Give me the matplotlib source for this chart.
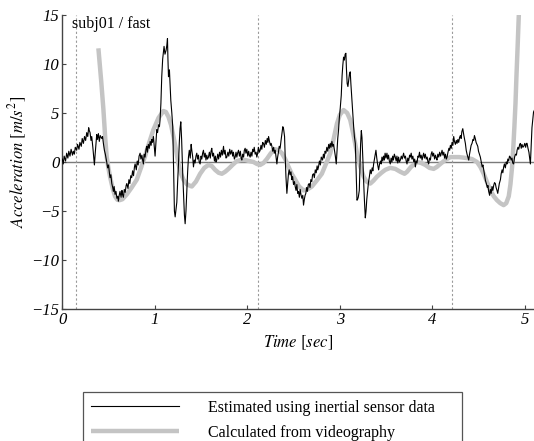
import matplotlib
matplotlib.use('Agg')
import matplotlib.pyplot as plt

plt.rcParams['font.family'] = ['Liberation Serif', 'DejaVu Serif']
plt.rcParams['mathtext.fontset'] = 'stix'

## 관성센서 추정 가속도 (검은 선)
t_imu = [0.00, 0.01, 0.02, 0.035, 0.047, 0.06, 0.07, 0.083, 0.095, 0.11, 0.119, 0.13, 0.14, 0.155, 0.165, 0.18, 0.19, 0.205, 0.215, 0.228,
         0.24, 0.252, 0.264, 0.275, 0.285, 0.292, 0.30, 0.31, 0.318, 0.33, 0.34, 0.347, 0.355, 0.365, 0.372, 0.379, 0.39, 0.40, 0.41, 0.426,
         0.435, 0.444, 0.455, 0.465, 0.48, 0.49, 0.50, 0.51, 0.516, 0.525, 0.535, 0.545, 0.552, 0.56, 0.57, 0.58, 0.59, 0.60, 0.606, 0.615,
         0.624, 0.635, 0.645, 0.65, 0.66, 0.67, 0.68, 0.69, 0.697, 0.71, 0.72, 0.73, 0.74, 0.75, 0.76, 0.77, 0.78, 0.787, 0.80, 0.81,
         0.82, 0.83, 0.841, 0.85, 0.86, 0.868, 0.877, 0.885, 0.895, 0.905, 0.913, 0.92, 0.93, 0.94, 0.95, 0.96, 0.967, 0.975, 0.985, 0.995,
         1.003, 1.012, 1.021, 1.03, 1.04, 1.05, 1.057, 1.066, 1.075, 1.085, 1.10, 1.11, 1.122, 1.13, 1.137, 1.142, 1.148, 1.153, 1.158, 1.165,
         1.173, 1.184, 1.194, 1.20, 1.207, 1.212, 1.22, 1.23, 1.238, 1.247, 1.256, 1.265, 1.273, 1.281, 1.29, 1.297, 1.303, 1.312, 1.32, 1.328,
         1.337, 1.346, 1.355, 1.364, 1.373, 1.383, 1.393, 1.40, 1.41, 1.418, 1.427, 1.436, 1.445, 1.454, 1.463, 1.472, 1.48, 1.49, 1.50, 1.508,
         1.517, 1.526, 1.535, 1.545, 1.553, 1.562, 1.57, 1.58, 1.59, 1.60, 1.608, 1.616, 1.625, 1.635, 1.645, 1.655, 1.662, 1.67, 1.68, 1.69,
         1.70, 1.71, 1.72, 1.73, 1.743, 1.75, 1.76, 1.77, 1.779, 1.79, 1.80, 1.81, 1.82, 1.833, 1.842, 1.85, 1.86, 1.869, 1.878, 1.887,
         1.895, 1.905, 1.915, 1.925, 1.933, 1.941, 1.95, 1.96, 1.968, 1.977, 1.985, 1.995, 2.005, 2.015, 2.022, 2.031, 2.04, 2.05, 2.058, 2.067,
         2.075, 2.085, 2.095, 2.103, 2.112, 2.12, 2.13, 2.139, 2.148, 2.157, 2.166, 2.175, 2.185, 2.195, 2.205, 2.215, 2.223, 2.23, 2.24, 2.25,
         2.258, 2.266, 2.275, 2.285, 2.293, 2.302, 2.31, 2.32, 2.328, 2.337, 2.345, 2.355, 2.365, 2.375, 2.384, 2.392, 2.403, 2.41, 2.418, 2.428,
         2.435, 2.445, 2.453, 2.462, 2.472, 2.482, 2.49, 2.50, 2.51, 2.518, 2.527, 2.536, 2.545, 2.554, 2.563, 2.572, 2.58, 2.59, 2.60, 2.608,
         2.617, 2.625, 2.633, 2.642, 2.65, 2.66, 2.669, 2.678, 2.687, 2.697, 2.706, 2.716, 2.725, 2.735, 2.745, 2.755, 2.762, 2.77, 2.78, 2.79,
         2.80, 2.814, 2.823, 2.832, 2.841, 2.85, 2.86, 2.87, 2.88, 2.888, 2.897, 2.905, 2.915, 2.924, 2.933, 2.943, 2.952, 2.962, 2.97, 2.978,
         2.987, 2.995, 3.005, 3.016, 3.025, 3.033, 3.041, 3.05, 3.058, 3.066, 3.072, 3.08, 3.088, 3.097, 3.105, 3.113, 3.12, 3.13, 3.139, 3.15,
         3.158, 3.168, 3.175, 3.18, 3.186, 3.193, 3.20, 3.211, 3.218, 3.225, 3.233, 3.24, 3.25, 3.258, 3.266, 3.276, 3.284, 3.292, 3.301, 3.31,
         3.32, 3.33, 3.34, 3.35, 3.358, 3.366, 3.375, 3.383, 3.391, 3.40, 3.41, 3.42, 3.43, 3.44, 3.448, 3.456, 3.465, 3.473, 3.482, 3.49,
         3.50, 3.51, 3.518, 3.527, 3.536, 3.546, 3.555, 3.564, 3.572, 3.58, 3.59, 3.60, 3.61, 3.618, 3.627, 3.636, 3.645, 3.655, 3.665, 3.675,
         3.69, 3.70, 3.71, 3.718, 3.727, 3.735, 3.745, 3.755, 3.763, 3.772, 3.78, 3.79, 3.80, 3.81, 3.817, 3.826, 3.835, 3.845, 3.853, 3.862,
         3.87, 3.88, 3.89, 3.898, 3.907, 3.915, 3.925, 3.935, 3.945, 3.953, 3.961, 3.97, 3.98, 3.988, 3.997, 4.005, 4.015, 4.025, 4.035, 4.043,
         4.051, 4.06, 4.07, 4.08, 4.09, 4.098, 4.106, 4.115, 4.125, 4.133, 4.143, 4.152, 4.16, 4.17, 4.18, 4.188, 4.196, 4.205, 4.214, 4.223,
         4.232, 4.24, 4.25, 4.26, 4.268, 4.277, 4.286, 4.295, 4.304, 4.312, 4.32, 4.33, 4.34, 4.35, 4.358, 4.367, 4.376, 4.385, 4.394, 4.403,
         4.412, 4.42, 4.43, 4.44, 4.448, 4.456, 4.465, 4.474, 4.483, 4.492, 4.50, 4.51, 4.52, 4.53, 4.54, 4.548, 4.556, 4.565, 4.575, 4.585,
         4.595, 4.602, 4.61, 4.62, 4.628, 4.637, 4.646, 4.655, 4.664, 4.673, 4.682, 4.69, 4.70, 4.708, 4.716, 4.725, 4.737, 4.745, 4.755, 4.763,
         4.772, 4.78, 4.79, 4.80, 4.808, 4.817, 4.826, 4.835, 4.844, 4.853, 4.862, 4.87, 4.88, 4.89, 4.90, 4.91, 4.917, 4.926, 4.935, 4.945,
         4.953, 4.962, 4.97, 4.98, 4.989, 5.00, 5.01, 5.018, 5.025, 5.035, 5.045, 5.053, 5.061, 5.07, 5.078, 5.086, 5.095, 5.105]
a_imu = [0.3, -0.2, 0.6, 0.1, 0.9, 0.4, 1.1, 0.6, 1.3, 0.7, 1.1, 0.8, 1.5, 1.2, 1.8, 1.3, 2.0, 1.6, 2.4, 1.9,
         2.6, 2.2, 3.0, 2.6, 3.5, 3.2, 3.0, 2.2, 2.6, 1.5, 0.4, -0.3, 0.8, 1.9, 2.8, 2.3, 2.9, 2.1, 2.7, 2.4,
         2.6, 1.9, 1.2, 0.8, 0.0, -0.6, -0.3, -1.2, -1.6, -1.3, -2.2, -2.6, -3.0, -2.5, -3.3, -3.0, -3.7, -3.5, -4.0, -3.4,
         -3.0, -3.6, -2.9, -3.3, -3.6, -2.8, -3.1, -2.4, -2.2, -2.7, -1.8, -2.2, -1.4, -1.6, -0.9, -1.4, -0.5, -0.2, -0.8, 0.1,
         -0.3, 0.6, 0.9, 0.3, 0.7, 0.2, -0.2, 0.8, 0.5, 1.3, 1.6, 1.0, 1.8, 1.4, 2.1, 1.7, 2.3, 2.0, 2.6, 1.5,
         0.6, 2.0, 3.3, 3.0, 3.8, 3.6, 4.3, 6.0, 8.7, 10.5, 11.8, 11.0, 11.4, 11.9, 12.6, 10.5, 8.7, 9.0, 9.4, 8.0,
         6.3, 5.0, 3.6, 1.0, -2.5, -5.0, -5.6, -4.8, -4.1, -2.0, -0.2, 2.0, 3.4, 4.1, 2.3, 0.2, -1.5, -3.6, -5.4, -6.3,
         -5.0, -2.9, -1.0, 0.5, 1.2, 0.4, 1.8, 1.2, 0.5, -0.5, 0.2, -0.1, 0.6, 0.9, 0.3, 0.7, 0.0, -0.2, 0.6, 0.3,
         0.9, 1.2, 0.5, 0.9, 0.2, 0.7, 0.3, 0.5, 1.0, 0.4, 1.1, 1.4, 0.6, 0.9, 0.1, 0.6, 0.0, 0.2, 0.8, 0.3,
         1.0, 0.5, 1.2, 0.7, 1.6, 0.8, 1.2, 0.4, 0.5, 1.0, 0.6, 1.3, 0.8, 1.2, 0.6, 1.0, 0.3, 0.5, 1.0, 0.5,
         0.9, 1.2, 0.6, 1.1, 0.4, 0.2, 0.8, 0.5, 1.2, 1.4, 0.9, 1.3, 0.6, 1.1, 0.7, 0.5, 1.0, 0.6, 1.3, 1.05,
         1.5, 0.8, 1.0, 0.5, 0.9, 1.5, 1.0, 1.2, 1.7, 1.3, 2.0, 1.9, 1.5, 2.2, 1.8, 2.4, 2.0, 2.6, 2.1, 1.7,
         1.9, 1.6, 1.1, 1.5, 0.9, 1.2, 0.6, -0.2, 0.5, 1.0, 1.6, 1.4, 2.2, 2.9, 3.6, 3.4, 2.6, 0.5, -1.5, -3.2,
         -2.4, -1.2, -0.8, -1.3, -1.0, -1.8, -1.5, -2.3, -2.0, -2.5, -2.9, -2.3, -3.2, -3.0, -3.6, -2.8, -3.3, -3.7, -3.4, -4.4,
         -3.8, -3.4, -3.2, -2.6, -3.0, -2.3, -2.2, -2.6, -1.8, -2.0, -1.3, -1.2, -1.6, -0.8, -1.1, -0.4, -0.8, -0.5, 0.1, -0.3,
         0.5, 0.2, 0.8, 0.4, 1.1, 0.9, 1.5, 1.1, 1.8, 1.4, 1.9, 1.5, 2.1, 1.6, 1.8, 1.2, 0.6, -0.2, 1.2, 2.4,
         3.3, 4.5, 5.5, 6.8, 8.8, 9.9, 10.7, 10.4, 11.0, 11.1, 9.5, 8.0, 7.7, 8.4, 9.0, 9.2, 8.0, 6.5, 5.3, 3.6,
         2.6, 1.9, -0.5, -2.5, -3.9, -3.8, -3.6, -2.9, -0.5, 1.8, 3.2, 2.5, 0.2, -2.0, -3.8, -5.7, -5.0, -3.8, -2.9, -2.1,
         -1.5, -0.8, -1.2, -0.6, -0.9, -0.2, 0.3, 0.8, 1.2, 0.4, -0.3, -0.8, -0.2, 0.1, -0.2, 0.5, 0.1, 0.6, 0.2, 0.9,
         0.4, 0.9, 0.3, 0.7, 0.1, -0.2, 0.4, 0.0, 0.6, 0.2, 0.8, 0.5, 0.1, 0.6, -0.1, 0.5, 0.0, 0.2, 0.6, 0.3,
         0.9, 0.4, 0.6, 0.1, -0.2, 0.4, 0.1, 0.7, 0.5, 0.9, 0.3, 0.6, 0.0, 0.3, -0.5, 0.1, -0.1, 0.6, 0.5, 1.0,
         0.4, 0.7, 0.2, 0.6, 0.9, 0.4, 0.8, 0.3, 0.5, 0.0, -0.2, 0.4, 0.2, 0.8, 1.05, 0.6, 0.9, 0.3, 0.7, 0.4,
         0.2, 0.8, 0.5, 1.0, 0.6, 0.9, 1.2, 0.7, 1.0, 0.4, 0.8, 0.3, 0.5, 1.0, 1.4, 1.2, 1.7, 1.4, 2.0, 1.7,
         2.6, 2.1, 1.8, 2.2, 1.9, 2.3, 2.0, 2.5, 2.7, 2.4, 3.1, 3.4, 2.8, 2.3, 1.9, 1.2, 0.8, 0.5, 0.2, 0.8,
         1.3, 1.7, 1.9, 2.3, 2.2, 2.7, 2.4, 2.0, 1.8, 1.6, 1.1, 0.8, 0.5, 0.0, -0.5, -0.3, -0.8, -1.3, -1.9, -2.2,
         -2.6, -2.4, -3.0, -3.4, -2.8, -3.2, -2.5, -2.9, -2.4, -2.1, -2.2, -2.6, -2.9, -3.2, -2.7, -2.2, -1.8, -1.2, -0.8, -1.1,
         -0.5, -0.2, -0.6, 0.0, -0.2, 0.3, 0.1, 0.6, 0.5, 0.2, 0.4, -0.1, -0.2, 0.5, 0.8, 0.7, 1.2, 1.5, 1.3, 1.8,
         1.9, 1.4, 1.8, 1.5, 1.6, 1.9, 1.5, 1.9, 1.9, 1.4, 1.0, 0.4, -0.2, 1.8, 3.5, 4.3, 5.1, 5.3]

## 영상 분석 가속도 (회색 굵은 선)
t_video = [0.39, 0.42, 0.444, 0.465, 0.48, 0.50, 0.516, 0.545, 0.57, 0.595, 0.617, 0.65, 0.697, 0.75, 0.805, 0.85, 0.895, 0.94, 0.985, 1.04,
           1.093, 1.12, 1.148, 1.175, 1.202, 1.23, 1.256, 1.283, 1.31, 1.35, 1.40, 1.445, 1.49, 1.535, 1.58, 1.615, 1.652, 1.69, 1.725, 1.76,
           1.797, 1.84, 1.887, 1.93, 1.977, 2.02, 2.067, 2.105, 2.139, 2.175, 2.211, 2.255, 2.302, 2.34, 2.374, 2.41, 2.446, 2.48, 2.518, 2.56,
           2.608, 2.65, 2.698, 2.75, 2.806, 2.85, 2.897, 2.935, 2.969, 3.00, 3.041, 3.08, 3.113, 3.15, 3.186, 3.22, 3.258, 3.29, 3.33, 3.365,
           3.402, 3.45, 3.492, 3.545, 3.60, 3.655, 3.70, 3.727, 3.77, 3.835, 3.88, 3.925, 3.97, 4.015, 4.05, 4.087, 4.14, 4.196, 4.29, 4.376,
           4.43, 4.484, 4.52, 4.556, 4.59, 4.628, 4.665, 4.70, 4.735, 4.772, 4.80, 4.827, 4.845, 4.863, 4.877, 4.888, 4.90, 4.91, 4.923, 4.935,
           4.95]
a_video = [11.6, 8.3, 5.4, 2.3, 0.5, -0.7, -1.5, -2.7, -3.5, -3.85, -3.9, -3.8, -3.3, -2.6, -1.8, -0.6, 0.6, 2.0, 3.3, 4.5,
           5.2, 5.1, 4.6, 3.8, 2.6, 1.2, -0.2, -1.2, -1.8, -2.3, -2.5, -2.0, -1.2, -0.6, -0.3, -0.4, -0.8, -1.1, -1.2, -1.0,
           -0.7, -0.3, 0.1, 0.2, 0.2, 0.1, 0.0, -0.2, -0.3, -0.1, 0.3, 0.9, 1.3, 1.2, 0.9, 0.3, -0.5, -1.2, -1.8, -2.5,
           -2.9, -2.8, -2.5, -1.9, -1.2, -0.2, 0.9, 2.4, 3.9, 4.8, 5.3, 5.0, 4.3, 2.7, 0.9, -0.4, -1.5, -2.0, -2.2, -1.9,
           -1.5, -1.1, -0.8, -0.6, -0.7, -1.0, -1.2, -1.0, -0.5, 0.0, -0.1, -0.3, -0.6, -0.7, -0.5, -0.2, 0.2, 0.5, 0.5, 0.4,
           0.3, 0.0, -0.5, -1.2, -2.0, -2.9, -3.5, -3.9, -4.2, -4.4, -4.2, -3.5, -2.3, -0.5, 1.6, 3.6, 6.0, 8.7, 11.8, 14.8,
           18.0]

## 걸음 구간 경계
step_marks = [0.145, 2.12, 4.21]

fig = plt.figure(figsize=(5.34, 4.41), dpi=100)
ax = fig.add_axes([0.1167, 0.2993, 0.8833, 0.6667])

ax.axhline(0, color='#7a7a7a', lw=1.0, zorder=1)
for m in step_marks:
    ax.axvline(m, color='#9a9a9a', lw=0.8, ls=(0, (2, 2)), zorder=1)

ax.plot(t_video, a_video, color='#c4c4c4', lw=3.2, solid_capstyle='butt', zorder=2,
        label='Calculated from videography')
ax.plot(t_imu, a_imu, color='black', lw=0.8, zorder=3,
        label='Estimated using inertial sensor data')

ax.set_xlim(0, 5.1)
ax.set_ylim(-15, 15)
ax.set_xticks([0, 1, 2, 3, 4, 5])
ax.set_yticks([-15, -10, -5, 0, 5, 10, 15])
ax.tick_params(direction='in', length=3, width=0.8, color='#444444', labelsize=12, pad=2)
for lbl in ax.get_xticklabels() + ax.get_yticklabels():
    lbl.set_fontstyle('italic')

for s in ['top', 'right']:
    ax.spines[s].set_visible(False)
for s in ['left', 'bottom']:
    ax.spines[s].set_color('#444444')
    ax.spines[s].set_linewidth(1.0)

ax.set_xlabel(r'$Time\ [sec]$', fontsize=12, labelpad=4)
ax.set_ylabel(r'$Acceleration\ [m/s^2]$', fontsize=12, labelpad=2)

ax.text(0.11, 13.7, 'subj01 / fast', fontsize=11.5, va='baseline', ha='left')

h, l = ax.get_legend_handles_labels()
leg_top = 1 - 392 / 441
leg = fig.legend(h[::-1], l[::-1], loc='upper left',
                 bbox_to_anchor=(83 / 534, leg_top - 0.1, 379 / 534, 0.1), mode='expand',
                 fontsize=11.5, frameon=True, fancybox=False, framealpha=1,
                 edgecolor='#555555', handlelength=5.5, handletextpad=1.85,
                 borderpad=0.5, labelspacing=0.55, borderaxespad=0)
leg.get_frame().set_linewidth(0.9)

fig.savefig('out.png', dpi=100)
